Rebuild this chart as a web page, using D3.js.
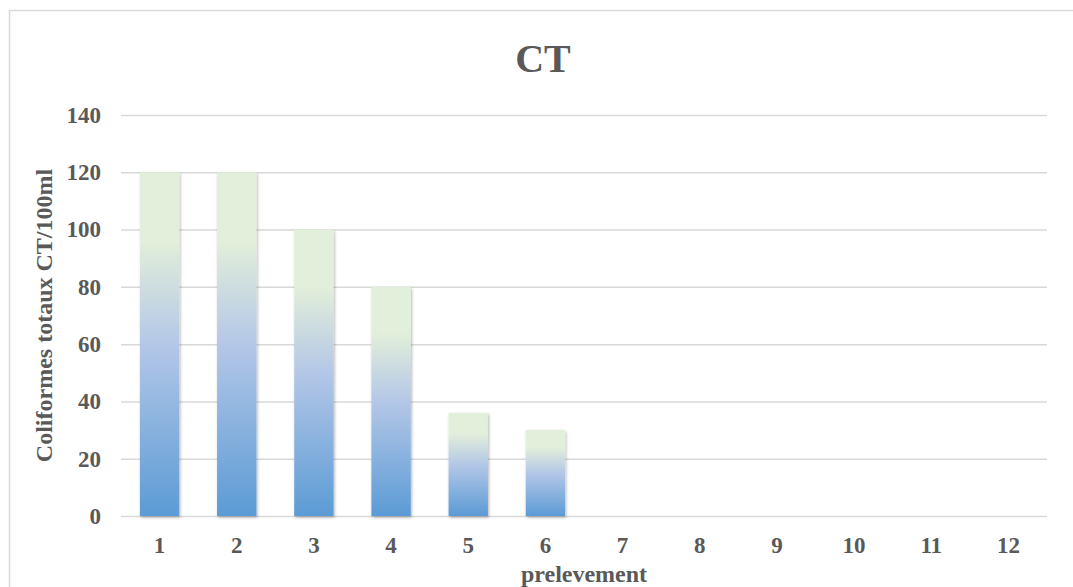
<!DOCTYPE html>
<html>
<head>
<meta charset="utf-8">
<script src="https://cdn.jsdelivr.net/npm/d3@7"></script>
<style>
  html, body { margin: 0; padding: 0; background: #fff; }
  svg { display: block; }
  text { font-family: "Liberation Serif", "Times New Roman", serif; font-weight: bold; fill: #595959; }
</style>
</head>
<body>
<svg id="chart" width="1073" height="587"></svg>
<script>
const categories = ["1","2","3","4","5","6","7","8","9","10","11","12"];
const values = [120, 120, 100, 80, 36, 30, 0, 0, 0, 0, 0, 0];
const yTicks = [0, 20, 40, 60, 80, 100, 120, 140];
const title = "CT";
const xTitle = "prelevement";
const yTitle = "Coliformes totaux CT/100ml";

const svg = d3.select("#chart");
const m = { left: 121, right: 1047, top: 115, bottom: 516 };

// chart border
svg.append("rect").attr("x", 9.5).attr("y", 10.5).attr("width", 1080).attr("height", 600)
  .attr("fill", "#fff").attr("stroke", "#D9D9D9").attr("stroke-width", 1.5);

const defs = svg.append("defs");
const grad = defs.append("linearGradient").attr("id", "barGrad")
  .attr("x1", 0).attr("y1", 1).attr("x2", 0).attr("y2", 0);
[[0, "#5B9BD5"], [0.5, "#B4C7E7"], [0.8, "#E2EFDA"], [1, "#E2EFDA"]].forEach(([o, c]) =>
  grad.append("stop").attr("offset", o).attr("stop-color", c));
const f = defs.append("filter").attr("id", "shadow").attr("x", "-20%").attr("y", "-10%").attr("width", "150%").attr("height", "130%");
f.append("feDropShadow").attr("dx", 1).attr("dy", 1.5).attr("stdDeviation", 1.5)
  .attr("flood-color", "#000").attr("flood-opacity", 0.3);

const x = d3.scaleBand().domain(categories).range([m.left, m.right]).paddingInner(0.49).paddingOuter(0.245);
const y = d3.scaleLinear().domain([0, 140]).range([m.bottom, m.top]);

// gridlines
svg.append("g").selectAll("line").data(yTicks).join("line")
  .attr("x1", m.left).attr("x2", m.right)
  .attr("y1", d => y(d) + 0.5).attr("y2", d => y(d) + 0.5)
  .attr("stroke", "#D9D9D9").attr("stroke-width", 1.5);

// y axis labels
const yAxis = d3.axisLeft(y).tickValues(yTicks).tickSize(0).tickPadding(0);
const gy = svg.append("g").attr("transform", `translate(${m.left - 20},0)`).call(yAxis);
gy.select(".domain").remove();
gy.selectAll("text").attr("font-size", 23).attr("fill", "#595959")
  .style("font-family", '"Liberation Serif", serif').style("font-weight", "bold");

// bars
svg.append("g").selectAll("rect").data(values.map((v, i) => ({ c: categories[i], v })).filter(d => d.v > 0))
  .join("rect")
  .attr("x", d => x(d.c)).attr("width", x.bandwidth())
  .attr("y", d => y(d.v)).attr("height", d => y(0) - y(d.v))
  .attr("fill", "url(#barGrad)").attr("filter", "url(#shadow)");

// x axis
const xAxis = d3.axisBottom(x).tickSize(0).tickPadding(0);
const gx = svg.append("g").attr("transform", `translate(0,${m.bottom + 21})`).call(xAxis);
gx.select(".domain").remove();
gx.selectAll("text").attr("font-size", 23).attr("fill", "#595959").attr("dy", "0.71em")
  .style("font-family", '"Liberation Serif", serif').style("font-weight", "bold");

// title
svg.append("text").attr("x", 543).attr("y", 72).attr("text-anchor", "middle")
  .attr("font-size", 40).text(title);

// axis titles
svg.append("text").attr("x", 584).attr("y", 582).attr("text-anchor", "middle")
  .attr("font-size", 24).text(xTitle);
svg.append("text").attr("transform", `translate(52,${(m.top + m.bottom) / 2}) rotate(-90)`)
  .attr("text-anchor", "middle").attr("font-size", 24).text(yTitle);
</script>
</body>
</html>
